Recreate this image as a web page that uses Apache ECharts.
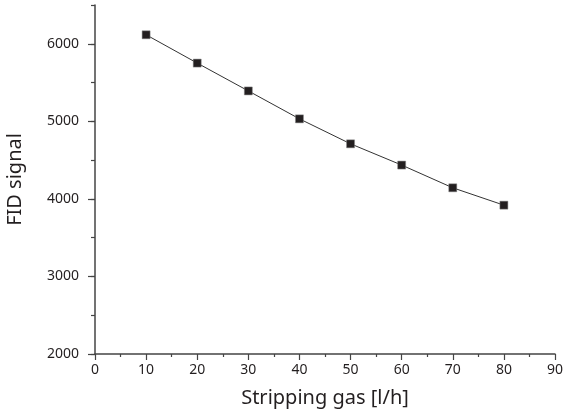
<!DOCTYPE html>
<html><head><meta charset="utf-8">
<script src="https://cdn.jsdelivr.net/npm/echarts@6/dist/echarts.min.js"></script>
<style>html,body{margin:0;padding:0;background:#fff}#c{width:564px;height:412px}</style>
</head><body><div id="c"></div>
<script>
const gasFlow = [10, 20, 30, 40, 50, 60, 70, 80];
const fidSignal = [6116, 5751, 5392, 5032, 4710, 4436, 4143, 3919];
const yMajorTicks = [2000, 3000, 4000, 5000, 6000];
const xLabel = 'Stripping gas [l/h]';
const yLabel = 'FID signal';

const ink = '#231f20';
const axisCol = '#444444';
const font = 'Noto Sans';
const chart = echarts.init(document.getElementById('c'), null, {renderer: 'canvas'});
chart.setOption({
  animation: false,
  backgroundColor: '#fff',
  grid: {left: 95, right: 9, top: 5, bottom: 58, containLabel: false, outerBoundsMode: 'none'},
  xAxis: {
    type: 'value', min: 0, max: 90, interval: 10,
    name: xLabel, nameLocation: 'middle', nameGap: 34,
    nameTextStyle: {fontFamily: font, fontSize: 20, color: ink},
    axisLine: {show: true, lineStyle: {color: axisCol, width: 1.5}},
    axisTick: {show: true, length: 6, lineStyle: {color: axisCol, width: 1.2}},
    minorTick: {show: true, splitNumber: 2, length: 3, lineStyle: {color: axisCol, width: 1.2}},
    axisLabel: {fontFamily: font, fontSize: 14, color: ink, margin: 9},
    splitLine: {show: false}
  },
  yAxis: [{
    type: 'value', min: 2000, max: 6500, interval: 500,
    name: yLabel, nameLocation: 'middle', nameGap: 70,
    nameTextStyle: {fontFamily: font, fontSize: 20, color: ink},
    axisLine: {show: true, lineStyle: {color: axisCol, width: 1.5}},
    axisTick: {show: true, length: 4, lineStyle: {color: axisCol, width: 1.2}},
    axisLabel: {fontFamily: font, fontSize: 14, color: ink, margin: 16,
      formatter: v => (yMajorTicks.indexOf(v) >= 0 ? String(v) : '')},
    splitLine: {show: false}
  }, {
    type: 'value', min: 2000, max: 6500, interval: 500, position: 'left',
    axisLine: {show: false},
    axisTick: {show: true, length: 7, customValues: yMajorTicks, lineStyle: {color: axisCol, width: 1.2}},
    axisLabel: {show: false},
    splitLine: {show: false}
  }],
  series: [{
    type: 'line',
    yAxisIndex: 0,
    data: gasFlow.map((x, i) => [x, fidSignal[i]]),
    symbol: 'rect', symbolSize: 8,
    itemStyle: {color: ink, borderColor: '#888', borderWidth: 0.5},
    lineStyle: {color: '#333', width: 1},
    smooth: false
  }]
});
</script></body></html>
